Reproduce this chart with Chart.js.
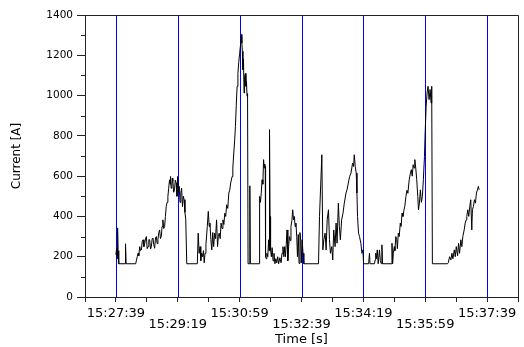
<!DOCTYPE html>
<html>
<head>
<meta charset="utf-8">
<script src="https://cdn.jsdelivr.net/npm/chart.js@4.4.1/dist/chart.umd.min.js"></script>
<style>
  body { margin: 0; background: #fff; }
  canvas { display: block; }
</style>
</head>
<body>
<canvas id="currentChart" width="524" height="347"></canvas>
<script>
// seconds after 15:27:39
const timeSec = [
  0, 1, 2, 2.7, 3.5, 4.3, 4.8, 15, 15.5, 16.5, 32,
  33.2, 34.5, 35.8, 37, 38.5, 39.8, 41.2, 42.5, 43.9, 45.2, 46.6, 47.9, 49.2, 50.5, 51.9, 53.2,
  54.6, 56, 57.3, 58.6, 59.9, 61.2, 62.6, 64, 65.3, 66.6, 67.9, 69.3, 70.6, 72, 73.3, 74.6,
  75.9, 77.3, 78.7, 80, 81.3, 82.7, 84, 85.3, 86.7, 87.5, 88.3, 89.3, 90.4, 91.2, 92, 93.3,
  94.7, 95.9, 97.4, 98.7, 99.7, 101, 102.3, 103.6, 104.9, 106.2, 107.6, 109, 110.3, 111.6, 112.9, 114.5,
  131.6, 133, 134.5, 136, 137.2, 138.5, 140, 141.5, 142.7, 144, 145.5, 147.7, 149.3, 150.8,
  152, 153.5, 155, 156.5, 158, 159.5, 161, 162.7, 164.3, 165.5, 167, 168.5, 170, 171.5, 173,
  174.5, 176, 177.5, 179, 180.8, 182.5, 184, 185.5, 187.8, 189, 190.5, 192, 193.2, 194.5, 195.9,
  197.2, 198.5, 200, 201.2, 202.8, 203.6, 204.4, 205.3, 206.2, 207.1, 208, 209.3, 210.2, 211.1,
  211.9, 212.8, 213.6, 215.8, 216.5, 217.3,
  232, 232.3, 233.6, 234.9, 236.2, 237.5, 238.7, 239.8, 240.6, 241.4, 241.9, 243, 244, 245.5,
  246.8, 247.6, 248.3, 249.2, 250, 251.3, 252.5, 254, 255.5, 257, 258.5, 260, 261.5, 263, 265,
  267, 268.5, 270, 271.5, 272.8, 274, 275.3, 276.6, 277.9, 279.2, 280.5, 282, 283, 284.5, 285.8,
  287.1, 288.4, 289.7, 291, 292.3, 293.5, 294.8, 296, 297.5, 298.8, 299.7, 301, 302.5, 303.8,
  327.5, 329.1, 332.9, 334.5, 336.1, 338.2, 339.8, 341.5, 343.6, 345.2, 346.8, 348.9, 350.5,
  352.1, 354.3, 355.9, 357.5, 359.6, 361.2, 362.8, 364.9, 367.1, 369.2, 371.9, 373.6, 375.7,
  377.8, 380, 382.6, 384.2, 385.3, 386.9, 388.5, 389.6, 390.6, 392.2, 393.8, 396, 397.7, 399.3, 400.3,
  408.5, 409.9, 410.8, 418, 419, 420, 421, 422.5, 424, 426, 427.5, 429, 430, 431, 445, 446.3,
  447.3, 448.5, 450, 451, 452.5, 454, 455, 456.5, 458, 459.7, 461, 462.5, 464, 465.5, 467,
  468.8, 470.5, 472, 474.1, 475.8, 477.5, 479, 480.5, 482, 483.2, 484.7, 486.3, 488, 489.1,
  490.6, 492.2, 493.8, 495.4, 497, 498.8, 499.9, 501.5, 503, 504.6, 506.2, 507.9, 509.5, 510.5, 511.6,
  536, 537.3, 539.4, 541.5, 543.2, 544.8, 547, 548.6, 550.2, 552.3, 553.9, 555.5, 557.6, 559.2,
  560.8, 563, 564.6, 566.2, 567.2, 568.8, 570.4, 572, 573.6, 575.3, 576.3, 577.9, 579.6, 581.2,
  582.8, 584.4, 586, 587.1
];

// current in A
const currentA = [
  209, 240, 190, 343, 230, 200, 165, 165, 264, 165, 165,
  184, 200, 217, 205, 250, 230, 234, 275, 284, 250, 267, 290, 300, 240, 250, 285,
  284, 238, 250, 290, 292, 260, 242, 295, 300, 265, 284, 320, 333, 290, 300, 350,
  383, 340, 350, 400, 449, 470, 499, 540, 582, 560, 598, 540, 549, 590, 574, 520,
  532, 580, 566, 500, 598, 520, 549, 470, 516, 540, 449, 500, 483, 420, 383, 165,
  165, 317, 217, 250, 180, 217, 200, 230, 170, 217, 260, 350, 425, 350,
  367, 284, 234, 320, 250, 317, 290, 383, 250, 300, 317, 290, 367, 340, 383,
  360, 416, 400, 458, 440, 516, 530, 566, 598, 640, 715, 780, 847, 950, 1046,
  1110, 1163, 1210, 1245, 1303, 1260, 1220, 1129, 1180, 1013, 1096, 1110, 1046, 1070,
  997, 1010, 165, 165, 552, 165,
  165, 499, 470, 515, 582, 560, 682, 640, 660, 648, 200, 190, 217, 200,
  284, 230, 831, 400, 234, 200, 245, 180, 217, 165, 190, 170, 200, 165, 195,
  170, 217, 250, 200, 250, 200, 260, 333, 180, 250, 300, 280, 350, 380, 433,
  383, 400, 350, 367, 300, 200, 310, 167, 320, 280, 170, 284, 217, 165,
  165, 400, 706, 234, 284, 317, 234, 383, 433, 284, 217, 250, 184,
  333, 250, 367, 267, 466, 350, 284, 383, 416, 466, 516, 532, 566,
  598, 615, 665, 648, 706, 648, 615, 516, 400, 317, 300, 267, 217, 234, 165,
  165, 217, 165, 165, 184, 217, 190, 234, 165, 234, 180, 165, 259, 165, 165, 267,
  165, 217, 250, 230, 300, 284, 240, 317, 300, 367, 350, 416, 400, 430, 450,
  499, 530, 515, 582, 610, 632, 600, 657, 640, 682, 640, 582, 499, 433,
  466, 532, 470, 499, 582, 698, 814, 947, 1013, 1046, 980, 1030, 963, 1046, 165,
  165, 170, 200, 184, 217, 190, 234, 200, 250, 205, 267, 217, 284, 250,
  300, 333, 367, 383, 400, 433, 400, 449, 483, 333, 433, 449, 483, 466,
  516, 532, 549, 532
];

// x axis: labelled ticks every 100 s, minor ticks every 50 s
const tickValues = [0, 100, 200, 300, 400, 500, 600];
const tickLabels = ['15:27:39', '15:29:19', '15:30:59', '15:32:39', '15:34:19', '15:35:59', '15:37:39'];
const xTicks = [-50, 0, 50, 100, 150, 200, 250, 300, 350, 400, 450, 500, 550, 600, 650];
const yMinorTicks = [100, 300, 500, 700, 900, 1100, 1300];

Chart.defaults.font.family = 'DejaVu Sans';
Chart.defaults.color = '#000';

// blue marker lines at each labelled time (under the data line)
const markerPlugin = {
  id: 'markers',
  beforeDatasetsDraw(chart) {
    const ctx = chart.ctx;
    const area = chart.chartArea;
    const x = chart.scales.x;
    ctx.save();
    ctx.strokeStyle = 'rgb(0, 0, 255)';
    ctx.lineWidth = 1;
    ctx.beginPath();
    for (let v of tickValues) {
      let px = Math.round(x.getPixelForValue(v)) + 0.5;
      ctx.moveTo(px, area.top);
      ctx.lineTo(px, area.bottom);
    }
    ctx.stroke();
    ctx.restore();
  }
};

// draws the short y minor ticks and the top/right frame
const framePlugin = {
  id: 'frame',
  afterDraw(chart) {
    const ctx = chart.ctx;
    const area = chart.chartArea;
    const y = chart.scales.y;
    ctx.save();
    ctx.strokeStyle = '#222';
    ctx.lineWidth = 1;
    ctx.beginPath();
    for (let v of yMinorTicks) {
      let py = Math.round(y.getPixelForValue(v)) + 0.5;
      ctx.moveTo(area.left - 4, py);
      ctx.lineTo(area.left, py);
    }
    ctx.moveTo(area.left, area.top + 0.5);
    ctx.lineTo(area.right + 0.5, area.top + 0.5);
    ctx.lineTo(area.right + 0.5, area.bottom);
    ctx.stroke();
    ctx.restore();
  }
};

const ctx = document.getElementById('currentChart').getContext('2d');
const myChart = new Chart(ctx, {
  type: 'line',
  data: {
    datasets: [{
      data: timeSec.map((t, i) => ({ x: t, y: currentA[i] })),
      borderColor: '#000',
      borderWidth: 1,
      pointRadius: 0,
      tension: 0,
      fill: false
    }]
  },
  options: {
    responsive: false,
    animation: false,
    devicePixelRatio: 1,
    layout: { padding: { left: 0, right: 3, top: 15, bottom: 0 } },
    plugins: {
      legend: { display: false },
      tooltip: { enabled: false }
    },
    scales: {
      x: {
        type: 'linear',
        min: -50,
        max: 650,
        afterBuildTicks: axis => { axis.ticks = xTicks.map(v => ({ value: v })); },
        afterFit: axis => { axis.height = 50; },
        ticks: {
          autoSkip: false,
          maxRotation: 0,
          padding: 6,
          font: { size: 13, lineHeight: '11px' },
          callback: function (value) {
            let i = tickValues.indexOf(value);
            if (i < 0) return '';
            return i % 2 ? ['', tickLabels[i]] : tickLabels[i];
          }
        },
        grid: {
          drawOnChartArea: false,
          tickColor: '#222',
          tickLength: 5
        },
        border: { color: '#222', width: 1 },
        title: {
          display: true,
          text: 'Time [s]',
          font: { size: 13 },
          padding: { top: 0, bottom: 0 }
        }
      },
      y: {
        min: 0,
        max: 1400,
        afterFit: axis => { axis.width = 85; },
        ticks: {
          stepSize: 200,
          padding: 4,
          font: { size: 10.5 },
          callback: value => String(value)
        },
        grid: {
          drawOnChartArea: false,
          tickColor: '#222',
          tickLength: 8
        },
        border: { color: '#222', width: 1 },
        title: {
          display: true,
          text: 'Current [A]',
          font: { size: 12 },
          padding: { top: 10, bottom: 0 }
        }
      }
    }
  },
  plugins: [markerPlugin, framePlugin]
});
</script>
</body>
</html>
